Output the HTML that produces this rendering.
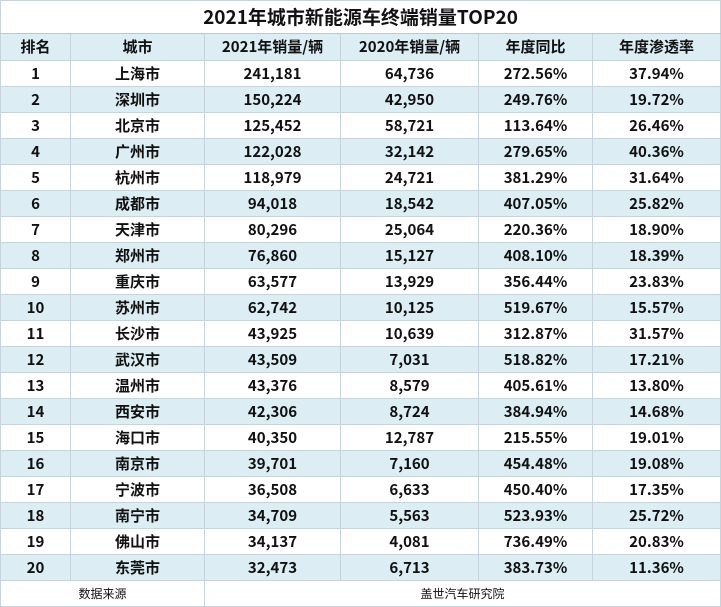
<!DOCTYPE html>
<html><head><meta charset="utf-8"><style>
body{margin:0;background:#fff;}
table{border-collapse:collapse;width:720px;table-layout:fixed;font-family:"Noto Sans CJK SC","Liberation Sans",sans-serif;color:#111;}
td{border:1px solid #c8d4dc;text-align:center;padding:0;font-size:15px;font-weight:bold;height:25px;line-height:20px;}
tr.t td{height:32px;font-size:19px;border-bottom:1px solid #b8c8d4;}
tr.h td{height:26px;background:#dcedf4;}
tr.b td{background:#dcedf4;}
tr.f td{height:25px;font-size:12px;font-weight:normal;}
</style></head><body>
<table>
<colgroup><col style="width:70px"><col style="width:134px"><col style="width:136px"><col style="width:138px"><col style="width:114px"><col style="width:128px"></colgroup>
<tr class="t"><td colspan="6">2021年城市新能源车终端销量TOP20</td></tr>
<tr class="h"><td>排名</td><td>城市</td><td>2021年销量/辆</td><td>2020年销量/辆</td><td>年度同比</td><td>年度渗透率</td></tr>
<tr><td>1</td><td>上海市</td><td>241,181</td><td>64,736</td><td>272.56%</td><td>37.94%</td></tr>
<tr class="b"><td>2</td><td>深圳市</td><td>150,224</td><td>42,950</td><td>249.76%</td><td>19.72%</td></tr>
<tr><td>3</td><td>北京市</td><td>125,452</td><td>58,721</td><td>113.64%</td><td>26.46%</td></tr>
<tr class="b"><td>4</td><td>广州市</td><td>122,028</td><td>32,142</td><td>279.65%</td><td>40.36%</td></tr>
<tr><td>5</td><td>杭州市</td><td>118,979</td><td>24,721</td><td>381.29%</td><td>31.64%</td></tr>
<tr class="b"><td>6</td><td>成都市</td><td>94,018</td><td>18,542</td><td>407.05%</td><td>25.82%</td></tr>
<tr><td>7</td><td>天津市</td><td>80,296</td><td>25,064</td><td>220.36%</td><td>18.90%</td></tr>
<tr class="b"><td>8</td><td>郑州市</td><td>76,860</td><td>15,127</td><td>408.10%</td><td>18.39%</td></tr>
<tr><td>9</td><td>重庆市</td><td>63,577</td><td>13,929</td><td>356.44%</td><td>23.83%</td></tr>
<tr class="b"><td>10</td><td>苏州市</td><td>62,742</td><td>10,125</td><td>519.67%</td><td>15.57%</td></tr>
<tr><td>11</td><td>长沙市</td><td>43,925</td><td>10,639</td><td>312.87%</td><td>31.57%</td></tr>
<tr class="b"><td>12</td><td>武汉市</td><td>43,509</td><td>7,031</td><td>518.82%</td><td>17.21%</td></tr>
<tr><td>13</td><td>温州市</td><td>43,376</td><td>8,579</td><td>405.61%</td><td>13.80%</td></tr>
<tr class="b"><td>14</td><td>西安市</td><td>42,306</td><td>8,724</td><td>384.94%</td><td>14.68%</td></tr>
<tr><td>15</td><td>海口市</td><td>40,350</td><td>12,787</td><td>215.55%</td><td>19.01%</td></tr>
<tr class="b"><td>16</td><td>南京市</td><td>39,701</td><td>7,160</td><td>454.48%</td><td>19.08%</td></tr>
<tr><td>17</td><td>宁波市</td><td>36,508</td><td>6,633</td><td>450.40%</td><td>17.35%</td></tr>
<tr class="b"><td>18</td><td>南宁市</td><td>34,709</td><td>5,563</td><td>523.93%</td><td>25.72%</td></tr>
<tr><td>19</td><td>佛山市</td><td>34,137</td><td>4,081</td><td>736.49%</td><td>20.83%</td></tr>
<tr class="b"><td>20</td><td>东莞市</td><td>32,473</td><td>6,713</td><td>383.73%</td><td>11.36%</td></tr>
<tr class="f"><td colspan="2">数据来源</td><td colspan="4">盖世汽车研究院</td></tr>
</table>
</body></html>
